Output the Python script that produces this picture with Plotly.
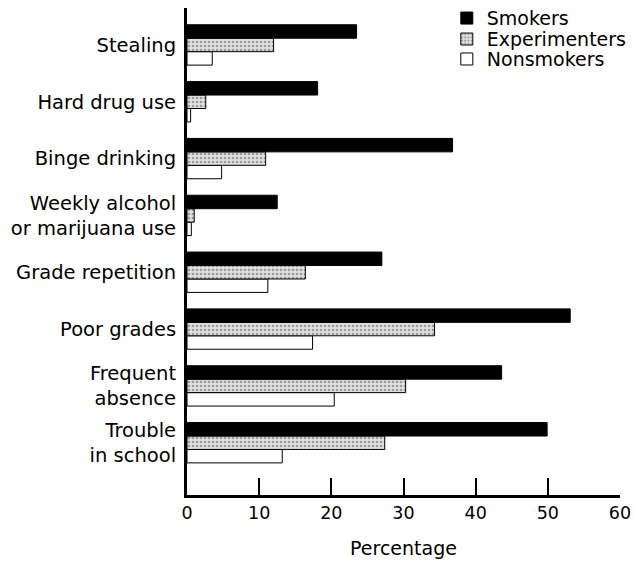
import plotly.graph_objects as go

categories = ["Trouble<br>in school", "Frequent<br>absence", "Poor grades", "Grade repetition",
              "Weekly alcohol<br>or marijuana use", "Binge drinking", "Hard drug use", "Stealing"]
smokers = [49.9, 43.6, 53.1, 27.0, 12.5, 36.8, 18.1, 23.5]
experimenters = [27.4, 30.3, 34.3, 16.4, 1.0, 10.9, 2.6, 12.0]
nonsmokers = [13.2, 20.4, 17.4, 11.2, 0.6, 4.8, 0.5, 3.5]
x_ticks = [0, 10, 20, 30, 40, 50, 60]

FONT = "DejaVu Sans, Liberation Sans, sans-serif"

fig = go.Figure()
fig.add_trace(go.Bar(y=categories, x=nonsmokers, name="Nonsmokers", orientation="h",
                     legend="legend3",
                     marker=dict(color="white", line=dict(color="black", width=1))))
fig.add_trace(go.Bar(y=categories, x=experimenters, name="Experimenters", orientation="h",
                     legend="legend2",
                     marker=dict(color="#d9d9d9", line=dict(color="black", width=1),
                                 pattern=dict(shape=".", fgcolor="#555555", bgcolor="#e0e0e0",
                                              size=4, solidity=0.35))))
fig.add_trace(go.Bar(y=categories, x=smokers, name="Smokers", orientation="h",
                     legend="legend",
                     marker=dict(color="black", line=dict(color="black", width=1))))

leg_common = dict(x=0.600, xanchor="left", yanchor="middle", font=dict(size=19, family=FONT),
                  bgcolor="rgba(0,0,0,0)", itemwidth=30)
fig.update_layout(
    width=634, height=562,
    margin=dict(l=187, r=14, t=8, b=67, autoexpand=False),
    barmode="group", bargap=0.29, bargroupgap=0,
    plot_bgcolor="white", paper_bgcolor="white",
    font=dict(family=FONT, size=20, color="black"),
    legend=dict(y=0.979, **leg_common),
    legend2=dict(y=0.936, **leg_common),
    legend3=dict(y=0.895, **leg_common),
    showlegend=True,
)
fig.update_xaxes(range=[0, 60], tickvals=x_ticks, ticks="inside", ticklen=17, tickwidth=1.5,
                 tickcolor="black", showline=True, linewidth=3, linecolor="black",
                 showgrid=False, zeroline=False, automargin=False,
                 title=dict(text="Percentage", font=dict(size=19), standoff=20),
                 tickfont=dict(size=17.5))
fig.update_yaxes(type="category", range=[-0.92, 7.65], showline=True, linewidth=3,
                 linecolor="black", showgrid=False, ticks="", tickfont=dict(size=19.5),
                 automargin=False, ticklabelstandoff=4)

fig.write_html("out.html", config={"displayModeBar": False},
               post_script="document.body.style.margin='0';")
